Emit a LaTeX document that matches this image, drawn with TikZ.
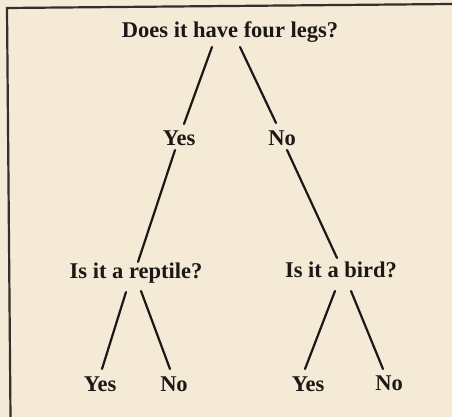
\documentclass[tikz,border=0pt]{standalone}
\usepackage{fontspec}
\setmainfont{Liberation Serif}
\usetikzlibrary{calc}
\definecolor{paper}{RGB}{244,234,214}
\definecolor{ink}{RGB}{28,24,22}
\tikzset{
  label/.style={font=\fontsize{22.5}{25}\selectfont\bfseries, text=ink, inner sep=0pt, anchor=base},
  branch/.style={draw=ink, line width=2.2pt, line cap=round},
  frame/.style={draw=ink!90, line width=2.2pt}
}
\begin{document}
\begin{tikzpicture}[x=1pt,y=1pt]
\fill[paper] (0,0) rectangle (452,417);
\useasboundingbox (0,0) rectangle (452,417);
\coordinate (tl) at (7,409);
\coordinate (tr) at (452,413);
\coordinate (bl) at (10.5,0);
\draw[frame] (tr) -- (tl) -- (bl);

\node[label] (q1) at (230,379) {Does it have four legs?};
\node[label] (y1) at (179,271) {Yes};
\node[label] (n1) at (282,271) {No};
\node[label] (q2) at (136,138) {Is it a reptile?};
\node[label] (q3) at (341,139) {Is it a bird?};
\node[label] (y2) at (100,25) {Yes};
\node[label] (n2) at (174,25) {No};
\node[label] (y3) at (308,25) {Yes};
\node[label] (n3) at (389,26) {No};

\draw[branch] ($(q1.base)+(-18,-9)$) -- ($(y1.base)+(5,22)$);
\draw[branch] ($(q1.base)+(10,-9)$) -- ($(n1.base)+(-6,23)$);
\draw[branch] ($(y1.base)+(-4,-4)$) -- ($(q2.base)+(2,17)$);
\draw[branch] ($(n1.base)+(5,-4)$) -- ($(q3.base)+(-4,20)$);
\draw[branch] ($(q2.base)+(-10,-13)$) -- ($(y2.base)+(2,23)$);
\draw[branch] ($(q2.base)+(5,-12)$) -- ($(n2.base)+(-4,23)$);
\draw[branch] ($(q3.base)+(-6,-13)$) -- ($(y3.base)+(-3,23)$);
\draw[branch] ($(q3.base)+(10,-13)$) -- ($(n3.base)+(-6,22)$);
\end{tikzpicture}
\end{document}
